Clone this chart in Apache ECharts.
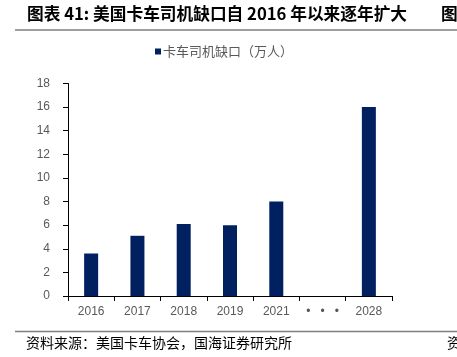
<!DOCTYPE html>
<html>
<head>
<meta charset="utf-8">
<script src="https://cdn.jsdelivr.net/npm/echarts@6/dist/echarts.min.js"></script>
<style>
html,body{margin:0;padding:0;background:#fff;}
#c{width:457px;height:357px;}
</style>
</head>
<body>
<div id="c"></div>
<script>
var categories = ["2016", "2017", "2018", "2019", "2021", "•   •   •", "2028"];
var shortage = [3.6, 5.1, 6.1, 6.0, 8.0, null, 16.0];
var yTicks = [0, 2, 4, 6, 8, 10, 12, 14, 16, 18];
var seriesName = "卡车司机缺口（万人）";
var titleText = "图表 41: 美国卡车司机缺口自 2016 年以来逐年扩大";
var sourceText = "资料来源：美国卡车协会，国海证券研究所";

var chart = echarts.init(document.getElementById('c'), null, {renderer: 'canvas'});
var cjk = '"Noto Sans CJK SC", "Noto Sans", sans-serif';
chart.setOption({
  animation: false,
  backgroundColor: '#ffffff',
  textStyle: {fontFamily: cjk},
  grid: {left: 68, right: 65, top: 83.5, bottom: 61, containLabel: false},
  legend: {
    data: [seriesName],
    top: 40,
    left: 150,
    itemWidth: 6, itemHeight: 6, itemGap: 4,
    icon: 'rect',
    textStyle: {fontSize: 13, color: '#595959', fontFamily: cjk, padding: [0,0,0,-3]}
  },
  graphic: [
    {type: 'text', left: 27, top: 5, style: {text: titleText, font: 'bold 16.7px ' + cjk, fill: '#000'}},
    {type: 'text', left: 441, top: 5, style: {text: '图', font: 'bold 16.7px ' + cjk, fill: '#000'}},
    {type: 'line', shape: {x1: 15, y1: 30, x2: 457, y2: 30}, style: {stroke: '#7f7f7f', lineWidth: 1.5}},
    {type: 'line', shape: {x1: 15, y1: 331.5, x2: 457, y2: 331.5}, style: {stroke: '#7f7f7f', lineWidth: 1.5}},
    {type: 'text', left: 26, top: 336, style: {text: sourceText, font: '14px ' + cjk, fill: '#000'}},
    {type: 'text', left: 447, top: 336, style: {text: '资', font: '14px ' + cjk, fill: '#000'}}
  ],
  xAxis: {
    type: 'category',
    data: categories,
    axisLine: {lineStyle: {color: '#000', width: 1}},
    axisTick: {show: true, length: 5, lineStyle: {color: '#000'}},
    axisLabel: {fontSize: 12, color: '#595959', margin: 10, fontFamily: '"Liberation Sans", Arial, sans-serif'}
  },
  yAxis: {
    type: 'value',
    min: 0, max: 18, interval: 2,
    axisLine: {show: true, lineStyle: {color: '#000', width: 1}},
    axisTick: {show: true, length: 5, lineStyle: {color: '#000'}},
    splitLine: {show: false},
    axisLabel: {fontSize: 12, color: '#595959', margin: 18, fontFamily: '"Liberation Sans", Arial, sans-serif',
      formatter: function (v) { return yTicks.indexOf(v) >= 0 ? String(v) : ''; }}
  },
  series: [{
    name: seriesName,
    type: 'bar',
    data: shortage,
    barWidth: 14,
    itemStyle: {color: '#002060'}
  }]
});
</script>
</body>
</html>
